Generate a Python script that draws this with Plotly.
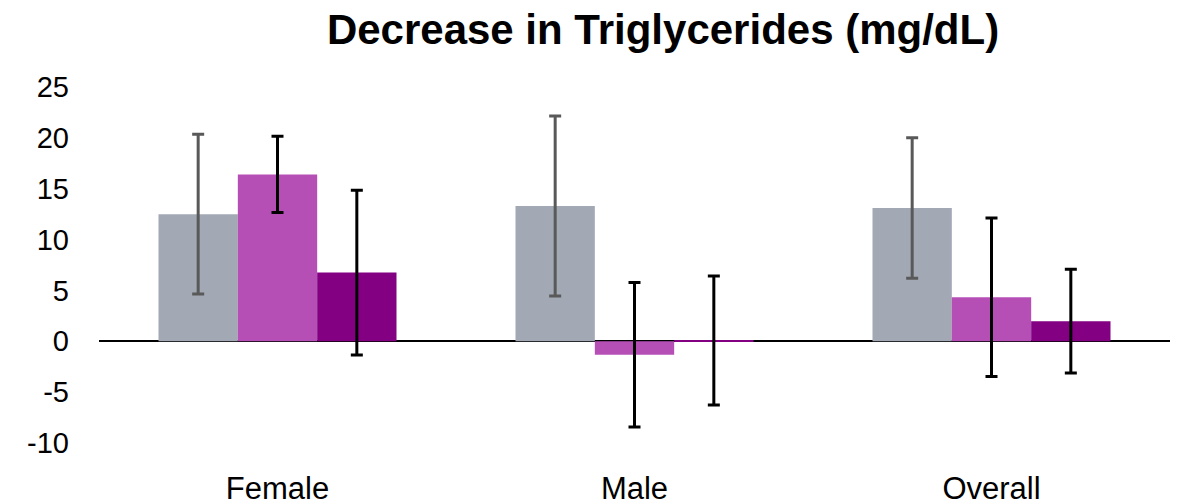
import plotly.graph_objects as go

categories = ["Female", "Male", "Overall"]
series_names = ["Series 1", "Series 2", "Series 3"]
values_s1 = [12.5, 13.3, 13.1]
errors_s1 = [7.85, 8.85, 6.9]
values_s2 = [16.4, -1.33, 4.33]
errors_s2 = [3.75, 7.1, 7.8]
values_s3 = [6.76, 0.08, 1.97]
errors_s3 = [8.1, 6.35, 5.1]
y_ticks = [-10, -5, 0, 5, 10, 15, 20, 25]
y_tick_labels = ["-10", "-5", "0", "5", "10", "15", "20", "25"]

colors = ["#A2A9B4", "#B54FB6", "#830083"]
err_colors = ["#595959", "#000000", "#000000"]

fig = go.Figure()
for name, vals, errs, c, ec in zip(series_names, [values_s1, values_s2, values_s3],
                                   [errors_s1, errors_s2, errors_s3], colors, err_colors):
    fig.add_trace(go.Bar(
        x=categories, y=vals, name=name,
        marker=dict(color=c, line=dict(width=0)),
        error_y=dict(type="data", array=errs, visible=True, color=ec, thickness=3, width=6),
    ))

W, H = 1173, 494
fig.update_layout(
    width=W, height=H,
    margin=dict(l=91, r=11, t=79, b=59),
    paper_bgcolor="white", plot_bgcolor="white",
    barmode="group", bargap=1/3, bargroupgap=0,
    showlegend=False,
    font=dict(family="Liberation Sans, Arial, sans-serif", color="#000000"),
    title=dict(text="<b>Decrease in Triglycerides (mg/dL)</b>",
               x=655/W, xanchor="center", xref="container",
               y=1 - 21/H, yanchor="middle", yref="container",
               font=dict(size=42, color="#000000")),
)
fig.update_xaxes(showline=False, showgrid=False, zeroline=False, ticks="",
                 tickfont=dict(size=31), ticklabelstandoff=24, automargin=False)
fig.update_yaxes(range=[-10, 25], tickvals=y_ticks, ticktext=y_tick_labels,
                 showgrid=False, showline=False,
                 zeroline=True, zerolinecolor="#000000", zerolinewidth=2,
                 ticks="", tickfont=dict(size=29), ticklabelstandoff=29, automargin=False)

fig.write_html("out.html")
